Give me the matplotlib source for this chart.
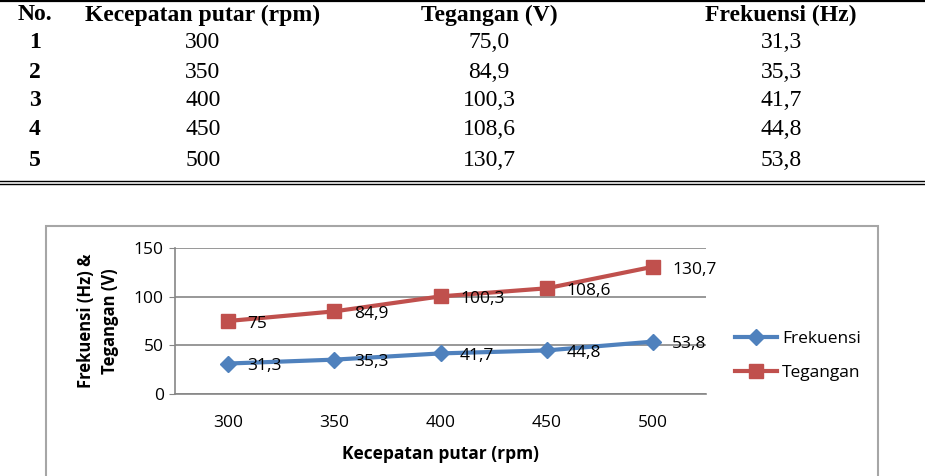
import numpy as np
import matplotlib
matplotlib.use('Agg')
import matplotlib.pyplot as plt
from matplotlib.lines import Line2D
from matplotlib.patches import Rectangle

# data
no = ['1', '2', '3', '4', '5']
rpm = [300, 350, 400, 450, 500]
tegangan = [75.0, 84.9, 100.3, 108.6, 130.7]
frekuensi = [31.3, 35.3, 41.7, 44.8, 53.8]
headers = ['No.', 'Kecepatan putar (rpm)', 'Tegangan (V)', 'Frekuensi (Hz)']

W, H = 925, 476
fig = plt.figure(figsize=(W / 100, H / 100), dpi=100)

def fx(px):
    return px / W

def fy(py):
    return 1 - py / H

def koma(v, dec=1):
    return ('%.*f' % (dec, v)).replace('.', ',')

# ---- table on top ----
serif = 'Liberation Serif'
fig.add_artist(Line2D([0, 1], [fy(1), fy(1)], color='black', lw=1.6))
fig.add_artist(Line2D([0, 1], [fy(181), fy(181)], color='black', lw=1.0))
fig.add_artist(Line2D([0, 1], [fy(184), fy(184)], color='black', lw=1.0))

col_x = [35, 203, 489, 781]
for i in range(4):
    fig.text(fx(col_x[i]), fy(15), headers[i], ha='center', va='center', family=serif, fontsize=17, fontweight='bold')

row_y = [43, 72, 101, 130, 160]
for i in range(len(no)):
    y = fy(row_y[i])
    fig.text(fx(col_x[0]), y, no[i], ha='center', va='center', family=serif, fontsize=17, fontweight='bold')
    fig.text(fx(col_x[1]), y, str(rpm[i]), ha='center', va='center', family=serif, fontsize=17)
    fig.text(fx(col_x[2]), y, koma(tegangan[i]), ha='center', va='center', family=serif, fontsize=17)
    fig.text(fx(col_x[3]), y, koma(frekuensi[i]), ha='center', va='center', family=serif, fontsize=17)

# ---- chart ----
fig.add_artist(Rectangle((fx(46), fy(490)), fx(878) - fx(46), fy(226) - fy(490),
                         transform=fig.transFigure, fill=False, edgecolor='#a6a6a6', lw=1.5))

font = 'Open Sans'
fs = 12.5
ax = fig.add_axes([fx(175), fy(394), fx(706) - fx(175), fy(248) - fy(394)])
x = np.arange(len(rpm))
blue = '#4f81bd'
red = '#c0504d'
ax.plot(x, frekuensi, color=blue, lw=3, marker='D', markersize=8, label='Frekuensi')
ax.plot(x, tegangan, color=red, lw=3, marker='s', markersize=10, label='Tegangan')

for i in range(len(x)):
    ax.annotate(koma(frekuensi[i]), (x[i], frekuensi[i]), xytext=(14, -2), textcoords='offset points',
                ha='left', va='center', family=font, fontsize=fs)
    lab = koma(tegangan[i]) if tegangan[i] != int(tegangan[i]) else str(int(tegangan[i]))
    ax.annotate(lab, (x[i], tegangan[i]), xytext=(14, -2), textcoords='offset points',
                ha='left', va='center', family=font, fontsize=fs)

ax.set_xlim(-0.5, len(x) - 0.5)
ax.set_ylim(0, 150)
ax.set_yticks([0, 50, 100, 150])
ax.set_xticks(x)
ax.set_xticklabels([str(r) for r in rpm], family=font, fontsize=fs)
for t in ax.get_yticklabels():
    t.set_family(font)
    t.set_fontsize(fs)
ax.tick_params(axis='x', length=0, pad=15)
ax.tick_params(axis='y', length=4, color='#868686', pad=4)
ax.grid(axis='y', color='#868686', lw=1.2)
ax.set_axisbelow(True)
for s in ['top', 'right']:
    ax.spines[s].set_visible(False)
ax.spines['left'].set_color('#868686')
ax.spines['bottom'].set_color('#868686')
ax.spines['left'].set_linewidth(1.2)
ax.spines['bottom'].set_linewidth(1.2)

ax.set_xlabel('Kecepatan putar (rpm)', family=font, fontsize=fs, fontweight='bold', labelpad=10)
fig.text(fx(98), fy(321), 'Frekuensi (Hz) &\nTegangan (V)', rotation=90, ha='center', va='center',
         family=font, fontsize=12, fontweight='bold', linespacing=1.4)

leg = ax.legend(loc='center left', bbox_to_anchor=(fx(735), fy(356)), bbox_transform=fig.transFigure,
                frameon=False, prop={'family': font, 'size': fs}, handlelength=2.4, handletextpad=0.3,
                labelspacing=1.0, borderpad=0, borderaxespad=0)

fig.savefig('out.png', dpi=100)
